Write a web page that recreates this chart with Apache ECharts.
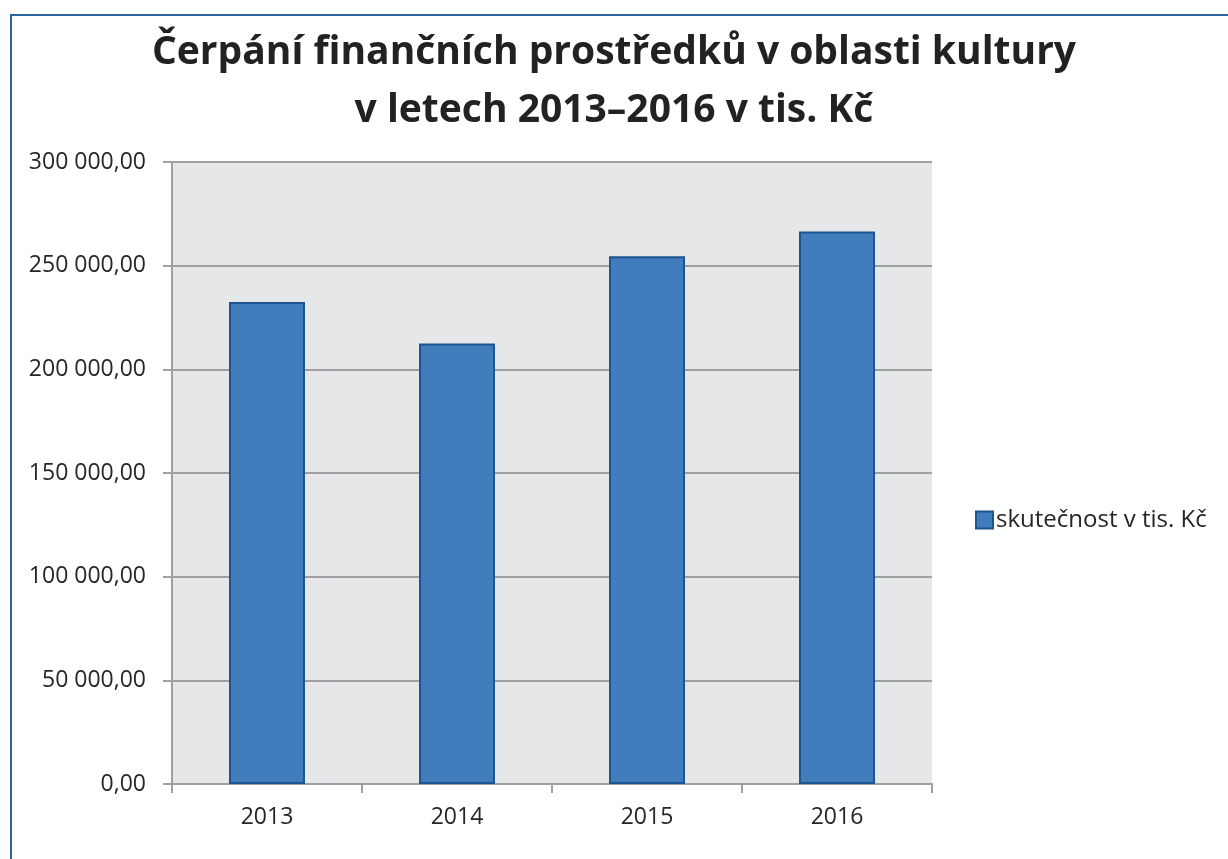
<!DOCTYPE html>
<html>
<head>
<meta charset="utf-8">
<script src="https://cdn.jsdelivr.net/npm/echarts@6/dist/echarts.min.js"></script>
<style>
  html, body { margin: 0; padding: 0; background: #fff; }
  #chart { width: 1228px; height: 859px; }
</style>
</head>
<body>
<div id="chart"></div>
<script>
// data
const years = ['2013', '2014', '2015', '2016']
const spending = [232500, 212500, 254500, 266500]
const seriesName = 'skutečnost v tis. Kč'
const titleLines = ['Čerpání finančních prostředků v oblasti kultury', 'v letech 2013–2016 v tis. Kč']

// 250000 -> "250 000,00"
function czNumber(v) {
  const s = Math.round(v).toString().replace(/\B(?=(\d{3})+(?!\d))/g, ' ')
  return s + ',00'
}

const chart = echarts.init(document.getElementById('chart'))
chart.setOption({
  animation: false,
  textStyle: { fontFamily: 'Open Sans', color: '#262626' },
  title: {
    text: titleLines.join('\n'),
    left: 'center',
    top: 19,
    textStyle: { fontSize: 39, fontWeight: 'bold', color: '#222', lineHeight: 58 }
  },
  legend: {
    orient: 'vertical',
    left: 970,
    top: 503,
    icon: 'rect',
    itemWidth: 17,
    itemHeight: 17,
    itemGap: 4,
    textStyle: { fontSize: 24, color: '#262626', padding: [0, 0, 0, -2] },
    data: [seriesName]
  },
  grid: {
    left: 172,
    right: 296,
    top: 162,
    bottom: 75,
    show: true,
    backgroundColor: '#e6e7e9',
    borderWidth: 0
  },
  xAxis: {
    type: 'category',
    data: years,
    axisLine: { lineStyle: { color: '#a0a0a0', width: 2 } },
    axisTick: { show: true, length: 9, lineStyle: { color: '#a0a0a0', width: 2 } },
    axisLabel: { fontSize: 23, color: '#262626', margin: 22 }
  },
  yAxis: {
    type: 'value',
    min: 0,
    max: 300000,
    interval: 50000,
    axisLine: { show: true, lineStyle: { color: '#a0a0a0', width: 2 } },
    axisTick: { show: true, length: 9, lineStyle: { color: '#a0a0a0', width: 2 } },
    splitLine: { lineStyle: { color: '#a0a0a0', width: 2 } },
    axisLabel: { fontSize: 23, color: '#262626', margin: 26, formatter: czNumber }
  },
  series: [{
    name: seriesName,
    type: 'bar',
    data: spending,
    barWidth: '40%',
    itemStyle: { color: '#417dbd', borderColor: '#1d568f', borderWidth: 2 }
  }],
  graphic: [{
    type: 'rect',
    shape: { x: 11, y: 15, width: 1300, height: 900 },
    style: { fill: 'none', stroke: '#2b679d', lineWidth: 2 },
    silent: true
  }]
})
</script>
</body>
</html>
